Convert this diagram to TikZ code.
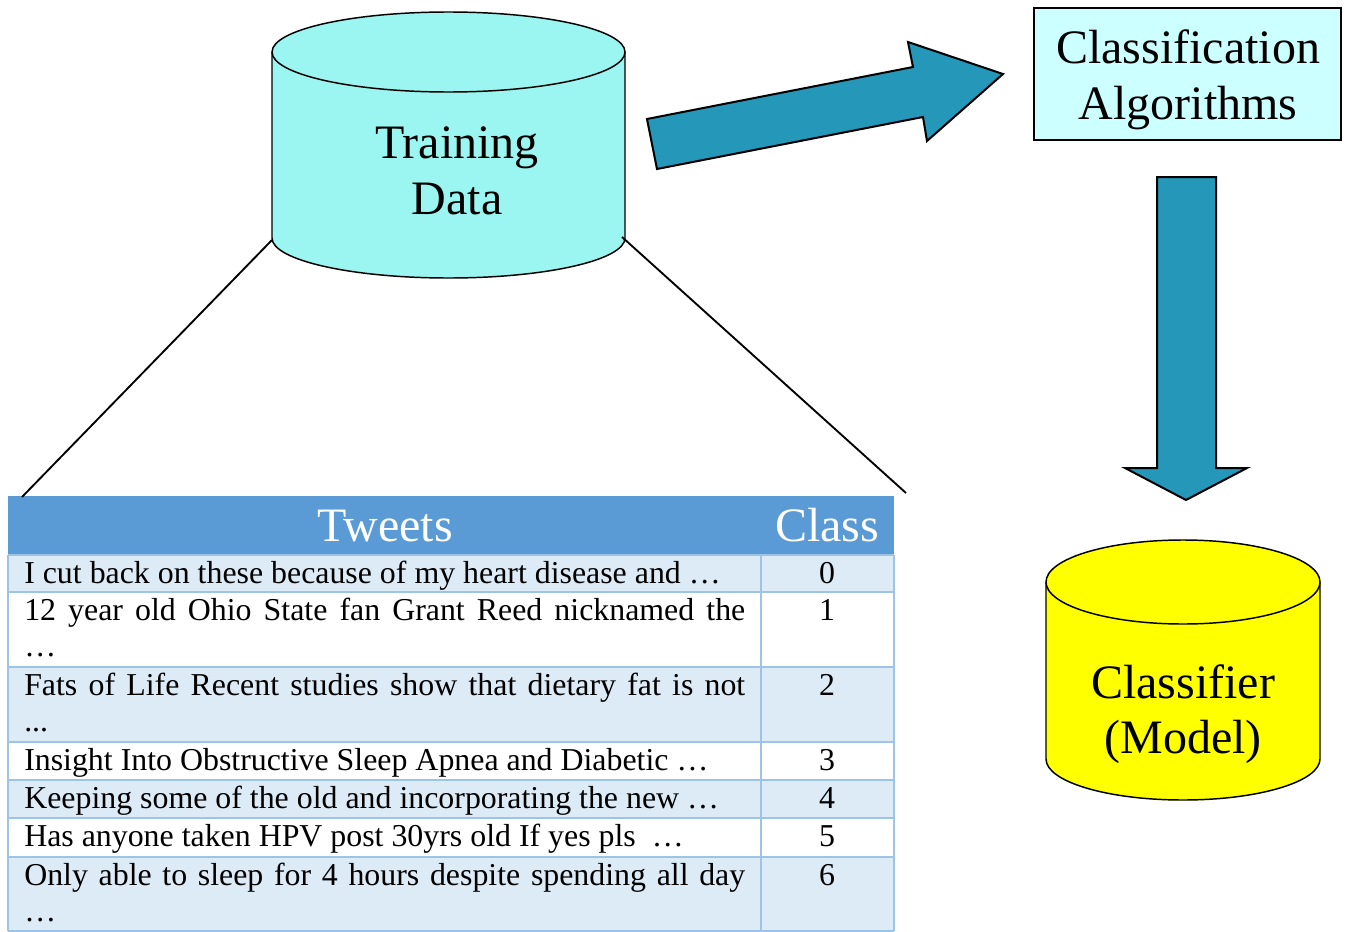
\documentclass[tikz,border=0pt]{standalone}
\usepackage{fontspec}
\setmainfont{Liberation Serif}
\definecolor{cylcyan}{RGB}{155,245,240}
\definecolor{boxcyan}{RGB}{204,255,255}
\definecolor{arrowblue}{RGB}{37,151,185}
\definecolor{cylyellow}{RGB}{255,255,0}
\definecolor{headblue}{RGB}{91,155,213}
\definecolor{rowblue}{RGB}{221,235,247}
\definecolor{gridblue}{RGB}{157,195,230}
\tikzset{
  bigtext/.style={font=\fontsize{36}{43}\selectfont, inner sep=0pt, anchor=base},
  headtext/.style={font=\fontsize{36}{43}\selectfont, text=white, inner sep=0pt, anchor=base},
  celltext/.style={font=\fontsize{23.9}{28}\selectfont, inner sep=0pt, anchor=base west},
  classtext/.style={font=\fontsize{23.9}{28}\selectfont, inner sep=0pt, anchor=base},
  outline/.style={draw=black, line width=1.1pt},
  fatarrow/.style={fill=arrowblue, draw=black, line width=1.5pt, line join=miter},
  zoomline/.style={draw=black, line width=1.4pt},
  gridline/.style={draw=gridblue, line width=1.3pt},
}
\newcommand{\spreadrow}[1]{\hbox to 540.75pt{\spaceskip=5pt plus 1fil\relax #1}}
\begin{document}
\begin{tikzpicture}[x=0.75pt,y=-0.75pt]
\useasboundingbox (0,0) rectangle (1350,932);

% ---------- Training Data cylinder ----------
\fill[cylcyan] (272,52) -- (272,238) arc[start angle=180,end angle=0,x radius=176.5,y radius=40]
  -- (625,52) arc[start angle=0,end angle=-180,x radius=176.5,y radius=40] -- cycle;
\draw[outline] (272,52) -- (272,238) arc[start angle=180,end angle=0,x radius=176.5,y radius=40] -- (625,52);
\draw[outline] (448.5,52) ellipse[x radius=176.5,y radius=40];
\node[bigtext] (tdA) at (457,158) {Training};
\node[bigtext] (tdB) at (457,214) {Data};
\coordinate (tdL) at (272,240);
\coordinate (tdR) at (622,237);

% ---------- Classification Algorithms box ----------
\node[draw=black, line width=1.5pt, fill=boxcyan, minimum width=230.25pt, minimum height=99pt, inner sep=0pt] (ca) at (1187.5,74) {};
\node[bigtext] (caA) at (1188,63) {Classification};
\node[bigtext] (caB) at (1188,119) {Algorithms};

% ---------- Arrows ----------
\draw[fatarrow] (647,119) -- (913,67) -- (908,42) -- (1003,74) -- (927,141) -- (923,117) -- (657,169) -- cycle;
\draw[fatarrow] (1157,177) -- (1216,177) -- (1216,468) -- (1247,468) -- (1186,500) -- (1125,468) -- (1157,468) -- cycle;

% ---------- Classifier cylinder ----------
\fill[cylyellow] (1046,582) -- (1046,759) arc[start angle=180,end angle=0,x radius=137,y radius=41]
  -- (1320,582) arc[start angle=0,end angle=-180,x radius=137,y radius=42] -- cycle;
\draw[outline] (1046,582) -- (1046,759) arc[start angle=180,end angle=0,x radius=137,y radius=41] -- (1320,582);
\draw[outline] (1183,582) ellipse[x radius=137,y radius=42];
\node[bigtext] (clA) at (1183,698) {Classifier};
\node[bigtext] (clB) at (1183,753) {(Model)};

% ---------- Table ----------
\fill[headblue] (8,496) rectangle (894,555);
\fill[rowblue] (8,555) rectangle (894,592);
\fill[white] (8,592) rectangle (894,667);
\fill[rowblue] (8,667) rectangle (894,742);
\fill[white] (8,742) rectangle (894,780);
\fill[rowblue] (8,780) rectangle (894,818);
\fill[white] (8,818) rectangle (894,857);
\fill[rowblue] (8,857) rectangle (894,931);
\foreach \yy in {555,592,667,742,780,818,857,931} {\draw[gridline] (8,\yy) -- (894,\yy);}
\draw[gridline] (8,555) -- (8,931);
\draw[gridline] (761,555) -- (761,931);
\draw[gridline] (894,555) -- (894,931);
\coordinate (tabL) at (22,497);
\coordinate (tabR) at (906,493);

\node[headtext] (hTw) at (385,541) {Tweets};
\node[headtext] (hCl) at (827,541) {Class};

\node[celltext] (r1) at (24,583.5) {I cut back on these because of my heart disease and \dots};
\node[celltext] (r2a) at (24,620.5) {\spreadrow{12 year old Ohio State fan Grant Reed nicknamed the}};
\node[celltext] (r2b) at (24,656.5) {\dots};
\node[celltext] (r3a) at (24,695.5) {\spreadrow{Fats of Life Recent studies show that dietary fat is not}};
\node[celltext] (r3b) at (24,731.5) {...};
\node[celltext] (r4) at (24,770.5) {Insight Into Obstructive Sleep Apnea and Diabetic \dots};
\node[celltext] (r5) at (24,808.5) {Keeping some of the old and incorporating the new \dots};
\node[celltext] (r6) at (24,846.5) {Has anyone taken HPV post 30yrs old If yes pls\ \ \dots};
\node[celltext] (r7a) at (24,885.5) {\spreadrow{Only able to sleep for 4 hours despite spending all day}};
\node[celltext] (r7b) at (24,921.5) {\dots};

\node[classtext] (c1) at (827,583.5) {0};
\node[classtext] (c2) at (827,620.5) {1};
\node[classtext] (c3) at (827,695.5) {2};
\node[classtext] (c4) at (827,770.5) {3};
\node[classtext] (c5) at (827,808.5) {4};
\node[classtext] (c6) at (827,846.5) {5};
\node[classtext] (c7) at (827,885.5) {6};

% ---------- Zoom lines ----------
\draw[zoomline] (tdL) -- (tabL);
\draw[zoomline] (tdR) -- (tabR);
\end{tikzpicture}
\end{document}
